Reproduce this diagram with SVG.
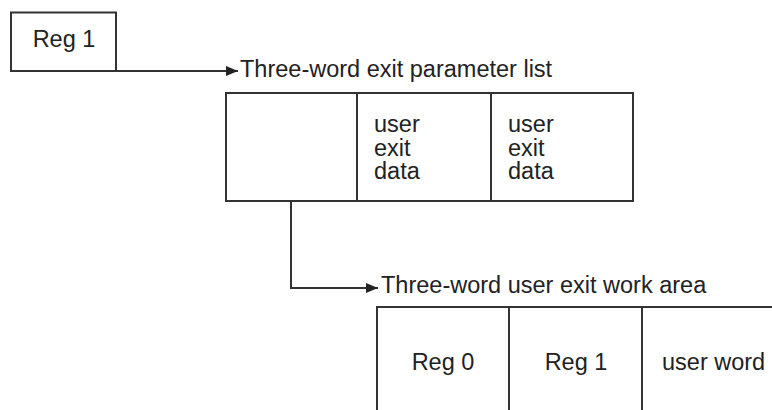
<svg xmlns="http://www.w3.org/2000/svg" width="772" height="410" viewBox="0 0 772 410">
<style>
.box{fill:none;stroke:#333;stroke-width:2}
.ln{fill:none;stroke:#333;stroke-width:2}
text{font-family:"Liberation Sans",Arial,sans-serif;font-size:23.5px;fill:#222}
</style>
<defs>
<marker id="ah" markerWidth="12" markerHeight="10" refX="12" refY="5" orient="auto" markerUnits="userSpaceOnUse">
<path d="M0,0 L12,5 L0,10 Z" fill="#222"/>
</marker>
</defs>
<rect width="772" height="410" fill="#fff"/>
<g id="reg1">
<rect class="box" x="11" y="12.5" width="105" height="58.5"/>
<text x="64" y="47" text-anchor="middle">Reg 1</text>
</g>
<g id="paramlist">
<text x="240" y="77">Three-word exit parameter list</text>
<rect class="box" x="226" y="93" width="407" height="108"/>
<line class="ln" x1="357" y1="93" x2="357" y2="201"/>
<line class="ln" x1="491" y1="93" x2="491" y2="201"/>
<text x="374" y="132">user</text>
<text x="374" y="155.5">exit</text>
<text x="374" y="179">data</text>
<text x="508" y="132">user</text>
<text x="508" y="155.5">exit</text>
<text x="508" y="179">data</text>
</g>
<g id="workarea">
<text x="381" y="293">Three-word user exit work area</text>
<path class="ln" d="M377,410 L377,307 L780,307"/>
<line class="ln" x1="509" y1="307" x2="509" y2="410"/>
<line class="ln" x1="642" y1="307" x2="642" y2="410"/>
<text x="443" y="370" text-anchor="middle">Reg 0</text>
<text x="576" y="370" text-anchor="middle">Reg 1</text>
<text x="662" y="370">user word</text>
</g>
<g id="connectors">
<path class="ln" d="M116,71 L238,71" marker-end="url(#ah)"/>
<path class="ln" d="M291,201 L291,288 L378,288" marker-end="url(#ah)"/>
</g>
</svg>
